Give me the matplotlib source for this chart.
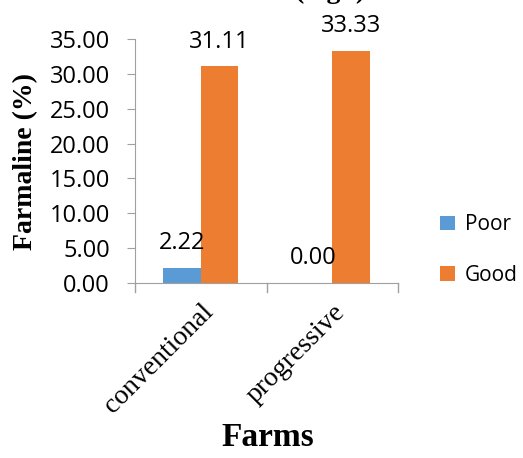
import matplotlib
matplotlib.use("Agg")
import matplotlib.pyplot as plt
import numpy as np

farms = ["conventional", "progressive"]
poor = [2.22, 0.00]
good = [31.11, 33.33]
series = [("Poor", poor, "#5b9bd5"), ("Good", good, "#ed7d31")]
yticks = [0, 5, 10, 15, 20, 25, 30, 35]

W, H = 523, 458
fig = plt.figure(figsize=(W / 100, H / 100), dpi=100)
ax = fig.add_axes([135 / W, 1 - 283 / H, 263 / W, 244 / H])

sans = "Open Sans"
serif = "Liberation Serif"

x = np.arange(len(farms))
bw = 0.286
for i, (name, vals, col) in enumerate(series):
    pos = x + (i - 0.5) * bw
    ax.bar(pos, vals, width=bw, color=col, label=name)
    for p, v in zip(pos, vals):
        ax.annotate(f"{v:.2f}", (p, v), xytext=(0, 9), textcoords="offset points",
                    ha="center", va="bottom", fontsize=17, family=sans)

ax.set_xlim(-0.5, len(farms) - 0.5)
ax.set_ylim(0, 35)
ax.set_yticks(yticks)
ax.set_yticklabels([f"{v:.2f}" for v in yticks], fontsize=17, family=sans)
ax.set_xticks(x)
ax.set_xticklabels(farms, rotation=45, ha="right", rotation_mode="anchor",
                   fontsize=20, family=serif)
ax.tick_params(axis="x", length=0, pad=12)
ax.tick_params(axis="y", length=6, color="#a0a0a0", pad=12)
# category boundary ticks below the axis
for b in np.arange(-0.5, len(farms), 1.0):
    ax.plot([b, b], [0, -0.035], transform=ax.get_xaxis_transform(),
            color="#a0a0a0", lw=1, clip_on=False)

for s in ("top", "right"):
    ax.spines[s].set_visible(False)
for s in ("left", "bottom"):
    ax.spines[s].set_color("#a0a0a0")

ax.set_ylabel("Farmaline (%)", fontsize=20, family=serif, fontweight="bold",
              labelpad=8)
fig.text(268 / W, 1 - 438 / H, "Farms", ha="center", va="center",
         fontsize=24, family=serif, fontweight="bold")
fig.text(330 / W, 1 + 9 / H, "(mg/l)", ha="center", va="center",
         fontsize=20, family=serif, fontweight="bold")

ax.legend(loc="center left", bbox_to_anchor=(440 / W, 1 - 250 / H),
          bbox_transform=fig.transFigure, frameon=False, borderpad=0,
          borderaxespad=0, prop={"family": sans, "size": 15},
          handlelength=0.7, handleheight=0.7, labelspacing=1.4,
          handletextpad=0.5)

fig.savefig("out.png", dpi=100)
